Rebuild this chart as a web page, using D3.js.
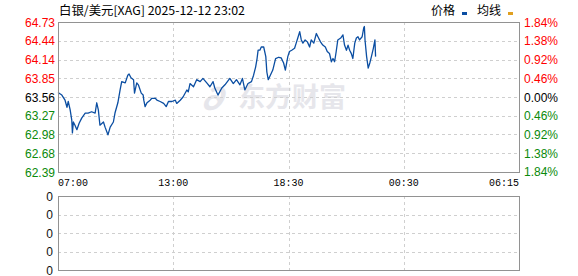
<!DOCTYPE html>
<html>
<head>
<meta charset="utf-8">
<script src="https://cdn.jsdelivr.net/npm/d3@7/dist/d3.min.js"></script>
<style>
	html, body { margin: 0; padding: 0; background: #fff; }
	svg { display: block; }
	.num { font-family: "Liberation Sans", Arial, sans-serif; font-size: 12px; }
	.mono { font-family: "Liberation Mono", "DejaVu Sans Mono", monospace; font-size: 11px; }
	.cjk { font-family: "Noto Sans CJK SC", sans-serif; font-size: 12px; }
</style>
</head>
<body>
<div id="chart"></div>
<script>
// silver / usd intraday
var title = "白银/美元[XAG] 2025-12-12 23:02";
var prevClose = 63.56;
var timeTicks = ["07:00", "13:00", "18:30", "00:30", "06:15"];
var priceTicks = [64.73, 64.44, 64.14, 63.85, 63.56, 63.27, 62.98, 62.68, 62.39];
var pctTicks = [1.84, 1.38, 0.92, 0.46, 0.00, -0.46, -0.92, -1.38, -1.84];
var volTicks = [0, 0, 0, 0, 0];

var times = [
	"07:00","07:12","07:22","07:28","07:32","07:38","07:43","07:45","07:48","07:53",
	"07:59","08:06","08:14","08:25","08:34","08:45","08:56","09:01","09:06","09:11",
	"09:22","09:27","09:36","09:43","09:53","09:58","10:07","10:14","10:19","10:30",
	"10:38","10:42","10:48","10:56","10:59","11:06","11:11","11:20","11:26","11:28",
	"11:32","11:38","11:48","11:53","12:04","12:09","12:19","12:30","12:38","12:45",
	"12:56","13:06","13:10","13:20","13:28","13:39","13:43","13:48","13:58","14:07",
	"14:17","14:25","14:36","14:45","14:54","14:59","15:08","15:19","15:28","15:42",
	"15:52","16:01","16:11","16:18","16:25","16:34","16:44","16:50","16:56","17:00",
	"17:03","17:08","17:12","17:19","17:25","17:28","17:32","17:38","17:45","17:53",
	"18:02","18:09","18:16","18:21","18:28","18:33","18:40","18:49","18:54","18:59",
	"19:05","19:10","19:15","19:22","19:29","19:36","19:41","19:49","19:57","20:02",
	"20:10","20:17","20:25","20:31","20:38","20:44","20:49","20:54","20:59","21:04",
	"21:13","21:20","21:25","21:31","21:36","21:41","21:46","21:51","21:57","22:02",
	"22:07","22:12","22:20","22:25","22:27","22:29","22:34","22:39","22:44","22:49",
	"22:55","23:00","23:02"
];
var prices = [
	63.63,63.59,63.51,63.40,63.49,63.36,63.20,63.00,63.17,63.12,
	63.05,63.15,63.23,63.31,63.31,63.33,63.31,63.47,63.36,63.12,
	63.17,63.09,62.97,63.09,63.17,63.31,63.47,63.67,63.80,63.78,
	63.90,63.92,63.86,63.83,63.62,63.78,63.75,63.62,63.59,63.51,
	63.41,63.47,63.51,63.54,63.54,63.51,63.49,63.46,63.41,63.49,
	63.49,63.51,63.46,63.51,63.56,63.67,63.64,63.77,63.72,63.83,
	63.80,63.85,63.78,63.72,63.80,63.70,63.59,63.70,63.75,63.85,
	63.77,63.83,63.75,63.85,63.67,63.77,63.80,63.90,64.03,64.16,
	64.29,64.29,64.34,64.34,64.19,63.95,63.83,63.90,63.98,64.16,
	64.18,64.17,64.09,63.98,64.19,64.27,64.29,64.32,64.40,64.48,
	64.58,64.45,64.40,64.45,64.42,64.34,64.45,64.40,64.55,64.50,
	64.42,64.37,64.34,64.27,64.24,64.11,64.16,64.11,64.27,64.45,
	64.48,64.53,64.37,64.29,64.37,64.29,64.24,64.16,64.40,64.48,
	64.50,64.45,64.50,64.64,64.66,64.45,64.19,64.01,64.09,64.19,
	64.32,64.45,64.19
];

var W = 578, H = 276;
var plot = {left: 58, right: 519, top: 22, bottom: 172};
var vol = {top: 196, bottom: 270};
var red = "#ff0000", green = "#0a8a0a", lineBlue = "#0b4ea2", frameGray = "#929292", gridGray = "#cfcfcf";

// minutes after 07:00, wrapping past midnight
function toMin(t) {
	var p = t.split(":");
	var m = (+p[0]) * 60 + (+p[1]) - 420;
	return m < 0 ? m + 1440 : m;
}

// labels sit evenly on the axis although the hours between them differ
var x = d3.scaleLinear()
	.domain(timeTicks.map(toMin))
	.range(timeTicks.map(function(d, i) { return plot.left + i * (plot.right - plot.left) / (timeTicks.length - 1); }));

var y = d3.scaleLinear()
	.domain([d3.min(priceTicks), d3.max(priceTicks)])
	.range([plot.bottom, plot.top]);

var yVol = d3.scaleLinear()
	.domain([0, volTicks.length - 1])
	.range([vol.top, vol.bottom]);

function colorOf(v) {
	return v > 0 ? red : (v < 0 ? green : "#000");
}

var svg = d3.select("#chart").append("svg")
	.attr("width", W)
	.attr("height", H);

// title
svg.append("text")
	.attr("class", "cjk")
	.attr("x", plot.left + 1)
	.attr("y", 15)
	.attr("textLength", 186)
	.attr("lengthAdjust", "spacingAndGlyphs")
	.text(title);

// legend
var legend = [{name: "价格", color: "#0b4ea2", x: 431}, {name: "均线", color: "#e0a020", x: 477}];
var lg = svg.append("g").selectAll("g").data(legend).enter().append("g");
lg.append("text")
	.attr("class", "cjk")
	.attr("x", function(d) { return d.x; })
	.attr("y", 15)
	.text(function(d) { return d.name; });
lg.append("rect")
	.attr("x", function(d) { return d.x + 31; })
	.attr("y", 12)
	.attr("width", 5)
	.attr("height", 3)
	.attr("fill", function(d) { return d.color; });

// watermark
var wm = svg.append("g").attr("fill", "#e6e6eb");
wm.append("text")
	.attr("x", 197)
	.attr("y", 110)
	.attr("font-family", "Noto Sans CJK SC, sans-serif")
	.attr("font-size", 30)
	.attr("font-weight", 900)
	.attr("font-style", "italic")
	.text("∂");
wm.append("text")
	.attr("x", 238)
	.attr("y", 107)
	.attr("font-family", "Noto Sans CJK SC, sans-serif")
	.attr("font-size", 27)
	.attr("font-weight", 700)
	.attr("textLength", 108)
	.attr("lengthAdjust", "spacingAndGlyphs")
	.text("东方财富");

// grids, both panels
function grid(g, yPos, top, bottom) {
	g.selectAll("line.h").data(yPos).enter().append("line")
		.attr("x1", plot.left).attr("x2", plot.right)
		.attr("y1", function(d) { return Math.round(d) + 0.5; })
		.attr("y2", function(d) { return Math.round(d) + 0.5; });
	g.selectAll("line.v").data(timeTicks.slice(1, -1)).enter().append("line")
		.attr("x1", function(d) { return Math.round(x(toMin(d))) + 0.5; })
		.attr("x2", function(d) { return Math.round(x(toMin(d))) + 0.5; })
		.attr("y1", top).attr("y2", bottom);
}
var g1 = svg.append("g").attr("stroke", gridGray).attr("stroke-dasharray", "3,3");
grid(g1, priceTicks.slice(1, -1).map(y), plot.top, plot.bottom);
var g2 = svg.append("g").attr("stroke", gridGray).attr("stroke-dasharray", "3,3");
grid(g2, volTicks.slice(1, -1).map(function(d, i) { return yVol(i + 1); }), vol.top, vol.bottom);

// price line
var data = times.map(function(t, i) { return {m: toMin(t), p: prices[i]}; });
svg.append("path")
	.datum(data)
	.attr("fill", "none")
	.attr("stroke", lineBlue)
	.attr("stroke-width", 1.3)
	.attr("stroke-linejoin", "round")
	.attr("d", d3.line()
		.x(function(d) { return x(d.m); })
		.y(function(d) { return y(d.p); }));

// frames
svg.append("rect")
	.attr("x", plot.left + 0.5).attr("y", plot.top + 0.5)
	.attr("width", plot.right - plot.left).attr("height", plot.bottom - plot.top)
	.attr("fill", "none").attr("stroke", frameGray);
svg.append("rect")
	.attr("x", plot.left + 0.5).attr("y", vol.top + 0.5)
	.attr("width", plot.right - plot.left).attr("height", vol.bottom - vol.top)
	.attr("fill", "none").attr("stroke", frameGray);

// left price labels
svg.append("g").selectAll("text").data(priceTicks).enter().append("text")
	.attr("class", "num")
	.attr("x", 55)
	.attr("y", function(d) { return y(d) + 4.5; })
	.attr("text-anchor", "end")
	.attr("fill", function(d) { return colorOf(d - prevClose); })
	.text(function(d) { return d.toFixed(2); });

// right percent labels
svg.append("g").selectAll("text").data(pctTicks).enter().append("text")
	.attr("class", "num")
	.attr("x", 524)
	.attr("y", function(d) { return y(prevClose * (1 + d / 100)) + 4.5; })
	.attr("fill", function(d) { return colorOf(d); })
	.text(function(d) { return Math.abs(d).toFixed(2) + "%"; });

// time labels
svg.append("g").selectAll("text").data(timeTicks).enter().append("text")
	.attr("class", "mono")
	.attr("x", function(d) { return x(toMin(d)); })
	.attr("y", 186)
	.attr("text-anchor", function(d, i) { return i === 0 ? "start" : (i === timeTicks.length - 1 ? "end" : "middle"); })
	.attr("textLength", 30)
	.attr("lengthAdjust", "spacingAndGlyphs")
	.text(function(d) { return d; });

// volume labels
svg.append("g").selectAll("text").data(volTicks).enter().append("text")
	.attr("class", "num")
	.attr("x", 53)
	.attr("y", function(d, i) { return yVol(i) + 4.5; })
	.attr("text-anchor", "end")
	.attr("fill", "#111")
	.text(function(d) { return d; });
</script>
</body>
</html>
